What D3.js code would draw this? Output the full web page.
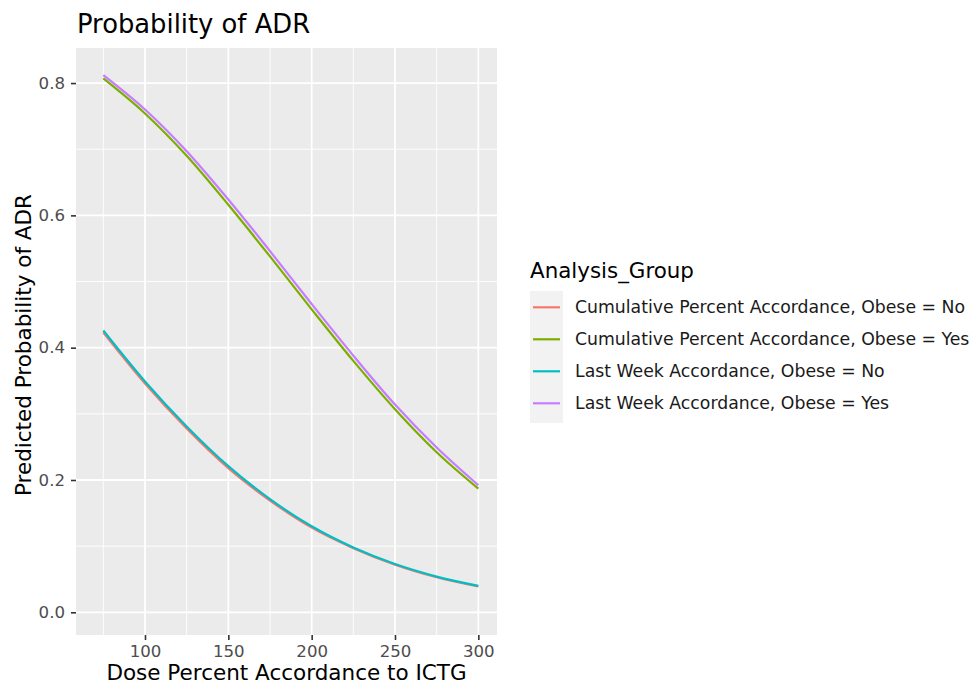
<!DOCTYPE html>
<html><head><meta charset="utf-8">
<script src="https://cdn.jsdelivr.net/npm/d3@7"></script>
<style>body{margin:0;background:#fff;}svg{display:block;font-family:"DejaVu Sans",sans-serif;}</style>
</head><body>
<svg id="c" width="969" height="684"></svg>
<script>
const doses = [75,100,125,150,175,200,225,250,275,300];
const seriesNames = ["Cumulative Percent Accordance, Obese = No","Cumulative Percent Accordance, Obese = Yes","Last Week Accordance, Obese = No","Last Week Accordance, Obese = Yes"];
const cumNo   = [0.423,0.346,0.278,0.218,0.169,0.128,0.097,0.072,0.053,0.039];
const cumYes  = [0.807,0.754,0.690,0.616,0.538,0.458,0.380,0.307,0.242,0.187];
const lastNo  = [0.426,0.349,0.281,0.221,0.171,0.130,0.098,0.073,0.054,0.040];
const lastYes = [0.812,0.760,0.697,0.624,0.546,0.466,0.388,0.314,0.249,0.192];
const colors = ["#F8766D","#7CAE00","#00BFC4","#C77CFF"];
const xTicks = [100,150,200,250,300];
const xMinor = [75,125,175,225,275];
const yTicks = [0.0,0.2,0.4,0.6,0.8];
const yMinor = [0.1,0.3,0.5,0.7];

const allSeries = [cumNo,cumYes,lastNo,lastYes];
const svg = d3.select("#c");
const L=76, R=497, T=48, B=635;
const x = d3.scaleLinear().domain([58.6,311.2]).range([L,R]);
const y = d3.scaleLinear().domain([-0.0343,0.853]).range([B,T]);

svg.append("rect").attr("x",L).attr("y",T).attr("width",R-L).attr("height",B-T).attr("fill","#EBEBEB");
const g = svg.append("g");
xMinor.forEach(v=>g.append("line").attr("x1",x(v)).attr("x2",x(v)).attr("y1",T).attr("y2",B).attr("stroke","#fff").attr("stroke-width",0.9));
yMinor.forEach(v=>g.append("line").attr("x1",L).attr("x2",R).attr("y1",y(v)).attr("y2",y(v)).attr("stroke","#fff").attr("stroke-width",0.9));
xTicks.forEach(v=>g.append("line").attr("x1",x(v)).attr("x2",x(v)).attr("y1",T).attr("y2",B).attr("stroke","#fff").attr("stroke-width",1.8));
yTicks.forEach(v=>g.append("line").attr("x1",L).attr("x2",R).attr("y1",y(v)).attr("y2",y(v)).attr("stroke","#fff").attr("stroke-width",1.8));

const line = d3.line().x((d,i)=>x(doses[i])).y(d=>y(d)).curve(d3.curveMonotoneX);
allSeries.forEach((s,i)=>{
  svg.append("path").attr("d",line(s)).attr("fill","none").attr("stroke",colors[i]).attr("stroke-width",2.2);
});

// axes
const xa = svg.append("g").attr("transform",`translate(0,${B})`).call(d3.axisBottom(x).tickValues(xTicks).tickSize(5).tickPadding(5).tickFormat(d3.format("d")));
const ya = svg.append("g").attr("transform",`translate(${L},0)`).call(d3.axisLeft(y).tickValues(yTicks).tickSize(5).tickPadding(6).tickFormat(d3.format(".1f")));
[xa,ya].forEach(a=>{
  a.select(".domain").remove();
  a.selectAll(".tick line").attr("stroke","#333").attr("stroke-width",1.6);
  a.selectAll(".tick text").attr("fill","#4D4D4D").attr("font-size",16.6).attr("font-family","DejaVu Sans");
});

svg.append("text").attr("x",(L+R)/2).attr("y",680).attr("text-anchor","middle").attr("font-size",21.5).attr("fill","#000").text("Dose Percent Accordance to ICTG");
svg.append("text").attr("transform",`translate(31,345) rotate(-90)`).attr("text-anchor","middle").attr("font-size",21.5).attr("fill","#000").text("Predicted Probability of ADR");
svg.append("text").attr("x",77).attr("y",33).attr("font-size",25.8).attr("fill","#000").text("Probability of ADR");

// legend
const lg = svg.append("g");
lg.append("text").attr("x",530).attr("y",278).attr("font-size",21.4).text("Analysis_Group");
lg.append("rect").attr("x",530).attr("y",291).attr("width",33).attr("height",132).attr("fill","#F2F2F2");
seriesNames.forEach((n,i)=>{
  const yy = 307.3 + i*32;
  lg.append("line").attr("x1",533).attr("x2",560).attr("y1",yy).attr("y2",yy).attr("stroke",colors[i]).attr("stroke-width",2.2);
  lg.append("text").attr("x",575).attr("y",yy+6).attr("font-size",17.3).attr("fill","#1A1A1A").text(n);
});
</script>
</body></html>
